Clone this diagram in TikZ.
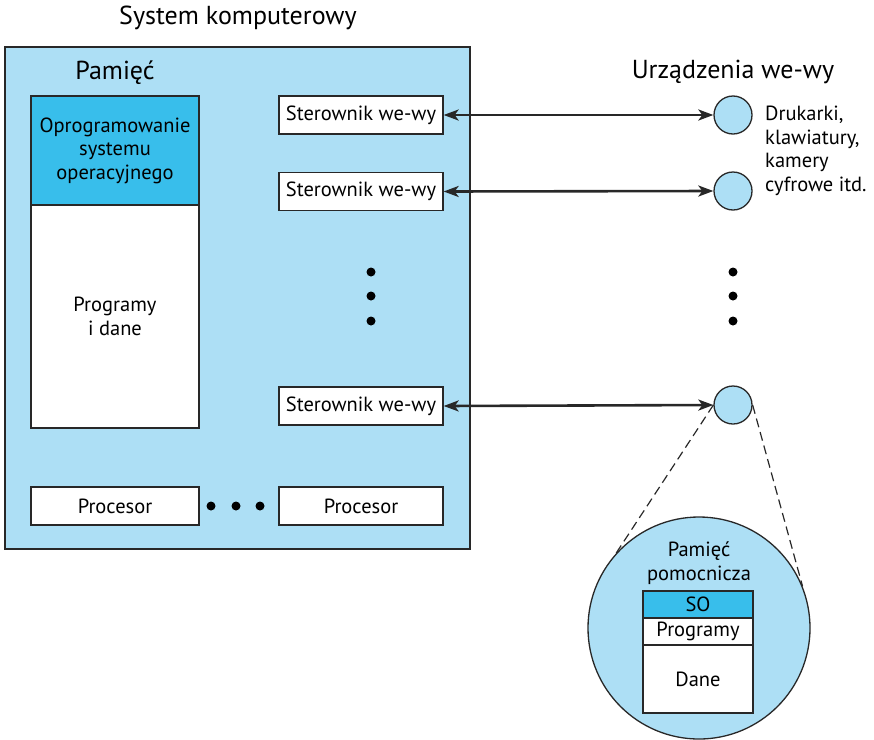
\documentclass[tikz,border=0pt]{standalone}
\usepackage{fontspec}
\setmainfont{PT Sans}
\usetikzlibrary{arrows.meta}

\definecolor{lightblue}{RGB}{173,223,245}
\definecolor{darkblue}{RGB}{56,190,235}
\definecolor{edge}{RGB}{40,40,40}

\begin{document}
\begin{tikzpicture}[
    x=1pt, y=-1pt,
    font=\fontsize{20.5}{23.5}\selectfont,
    box/.style={draw=edge, line width=1.3pt, fill=white, minimum width=164pt, minimum height=38pt, inner sep=0pt},
    memory/.style={draw=edge, line width=1.3pt, minimum width=168pt, inner sep=0pt, align=center},
    device/.style={circle, draw=edge, line width=1.3pt, fill=lightblue, minimum size=38pt, inner sep=0pt},
    layer/.style={draw=edge, line width=1.3pt, minimum width=110pt, inner sep=0pt},
    link/.style={{Stealth[length=15pt,width=11pt,inset=4pt]}-{Stealth[length=15pt,width=11pt,inset=4pt]}, line width=2.6pt, draw=edge},
    zoomline/.style={draw=edge, line width=1.2pt, dash pattern=on 9pt off 5pt},
    dot/.style={circle, fill=black, minimum size=9pt, inner sep=0pt},
    heading/.style={font=\fontsize{26}{30}\selectfont}
  ]
  \useasboundingbox (0,0) rectangle (874,739);

  % Computer system
  \node[draw=edge, line width=1.3pt, fill=lightblue, minimum width=465pt, minimum height=502pt] (system) at (237.5,298) {};
  \node[heading] (title) at (238,18) {System komputerowy};
  \node[heading] (memlabel) at (115,73) {Pamięć};

  % Main memory
  \node[memory, fill=darkblue, minimum height=109pt] (os) at (115,150.5) {Oprogramowanie\\systemu\\operacyjnego};
  \node[memory, fill=white, minimum height=223pt] (prog) at (115,316.5) {Programy\\i dane};

  % I/O controllers
  \node[box] (ctrl1) at (361,115) {Sterownik we-wy};
  \node[box] (ctrl2) at (361,191.5) {Sterownik we-wy};
  \node[box] (ctrl3) at (361,406) {Sterownik we-wy};

  % Processors
  \node[box, minimum width=168pt] (cpu1) at (115,506) {Procesor};
  \node[box] (cpu2) at (361,506) {Procesor};

  % Dots
  \foreach \y [count=\i] in {272,296,321} {
    \node[dot] (cdot\i) at (371,\y) {};
    \node[dot] (ddot\i) at (733,\y) {};
  }
  \foreach \x [count=\i] in {211,236,260} {
    \node[dot] (pdot\i) at (\x,506) {};
  }

  % I/O devices
  \node[heading] (devlabel) at (733,72) {Urządzenia we-wy};
  \node[device] (dev1) at (733,115) {};
  \node[device] (dev2) at (733,191) {};
  \node[device] (dev3) at (733,405) {};
  \node[anchor=west, align=left, inner sep=0pt] (devtext) at (765,151) {Drukarki,\\klawiatury,\\kamery\\cyfrowe itd.};

  \draw[link] (ctrl1.east) -- (dev1.west);
  \draw[link] (ctrl2.east) -- (dev2.west);
  \draw[link] (ctrl3.east) -- (dev3.west);

  % Secondary storage
  \node[circle, draw=edge, line width=1.3pt, fill=lightblue, minimum size=222pt] (store) at (699,628) {};
  \node[align=center] (storelabel) at (699,563) {Pamięć\\pomocnicza};
  \node[layer, fill=darkblue, minimum height=27pt] (so) at (698,604.5) {SO};
  \node[layer, fill=white, minimum height=27pt] (progs) at (698,631.5) {Programy};
  \node[layer, fill=white, minimum height=68pt] (data) at (698,679) {Dane};

  \draw[zoomline] (dev3.west) -- (store.138);
  \draw[zoomline] (dev3.east) -- (store.22);
\end{tikzpicture}
\end{document}
